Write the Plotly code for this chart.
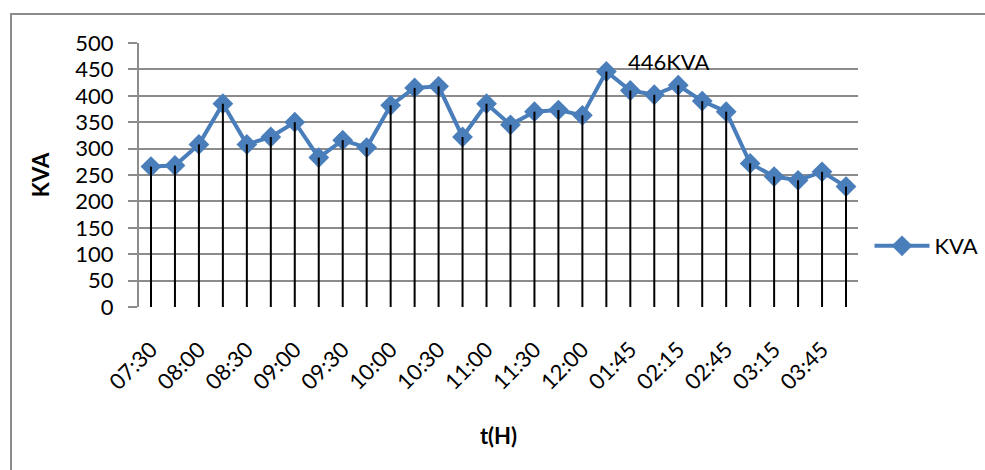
import plotly.graph_objects as go

# Load readings (KVA) sampled every 15 minutes
times = [
    "07:30", "07:45", "08:00", "08:15", "08:30", "08:45", "09:00", "09:15",
    "09:30", "09:45", "10:00", "10:15", "10:30", "10:45", "11:00", "11:15",
    "11:30", "11:45", "12:00", "01:30", "01:45", "02:00", "02:15", "02:30",
    "02:45", "03:00", "03:15", "03:30", "03:45", "04:00",
]
kva = [
    266, 268, 308, 385, 308, 322, 350, 283, 316, 302, 382, 415, 418, 322, 385,
    345, 370, 373, 363, 446, 410, 402, 420, 390, 370, 272, 247, 240, 256, 228,
]
y_ticks = list(range(0, 501, 50))

LINE_BLUE = "#4A7EBB"
GRID = "#8C8C8C"
FONT = "Lato"
FS = 22

# plot-area placement inside the 985x470 page
W, H = 985, 470
ML, MR, MT, MB = 139, 127, 43, 163
pw, ph = W - ML - MR, H - MT - MB

fig = go.Figure()

fig.add_trace(go.Scatter(
    x=times, y=kva, mode="lines+markers", name="KVA",
    line=dict(color=LINE_BLUE, width=4),
    marker=dict(symbol="diamond", size=16, color=LINE_BLUE),
))

# vertical drop lines from each reading down to zero
drop_x, drop_y = [], []
for t, v in zip(times, kva):
    drop_x += [t, t, None]
    drop_y += [v, 0, None]
fig.add_trace(go.Scatter(
    x=drop_x, y=drop_y, mode="lines", showlegend=False, hoverinfo="skip",
    line=dict(color="black", width=2),
))

# peak label
peak_i = max(range(len(kva)), key=lambda i: kva[i])
fig.add_annotation(
    x=times[peak_i], y=kva[peak_i], text=f"{kva[peak_i]}KVA",
    showarrow=False, xanchor="left", yanchor="middle",
    xshift=20, yshift=10, font=dict(family=FONT, size=FS, color="black"),
)

# outer chart border
fig.add_shape(
    type="rect", xref="paper", yref="paper",
    x0=(11 - ML) / pw, x1=(W + 10 - ML) / pw,
    y0=-(H + 10 - (H - MB)) / ph, y1=1 + (MT - 14) / ph,
    line=dict(color="#8C8C8C", width=2), fillcolor="rgba(0,0,0,0)",
    layer="below",
)

fig.update_layout(
    width=W, height=H,
    margin=dict(l=ML, r=MR, t=MT, b=MB, autoexpand=False),
    paper_bgcolor="white", plot_bgcolor="white",
    font=dict(family=FONT, color="black"),
    showlegend=True,
    legend=dict(
        x=1.016, y=(H - MB - 246) / ph, xanchor="left", yanchor="middle",
        font=dict(family=FONT, size=FS, color="black"),
        bgcolor="rgba(0,0,0,0)", itemwidth=55,
    ),
    xaxis=dict(
        type="category", range=[-0.5, len(times) - 0.5],
        tickvals=times[::2], ticktext=times[::2],
        tickangle=-45, tickfont=dict(family=FONT, size=FS, color="black"),
        ticks="outside", ticklen=20, tickcolor="rgba(0,0,0,0)",
        showgrid=False, showline=False, zeroline=False,
        title=dict(text="<b>t(H)</b>", font=dict(family=FONT, size=FS, color="black"), standoff=34),
    ),
    yaxis=dict(
        range=[0, 500], tickvals=y_ticks,
        tickfont=dict(family=FONT, size=FS, color="black"),
        ticks="outside", ticklen=9, tickcolor=GRID, tickwidth=2,
        ticklabelstandoff=10,
        showgrid=True, gridcolor=GRID, gridwidth=2,
        showline=True, linecolor=GRID, linewidth=2,
        zeroline=False,
        title=dict(text="<b>KVA</b>", font=dict(family=FONT, size=FS, color="black"), standoff=20),
    ),
)

fig.write_html("out.html")
